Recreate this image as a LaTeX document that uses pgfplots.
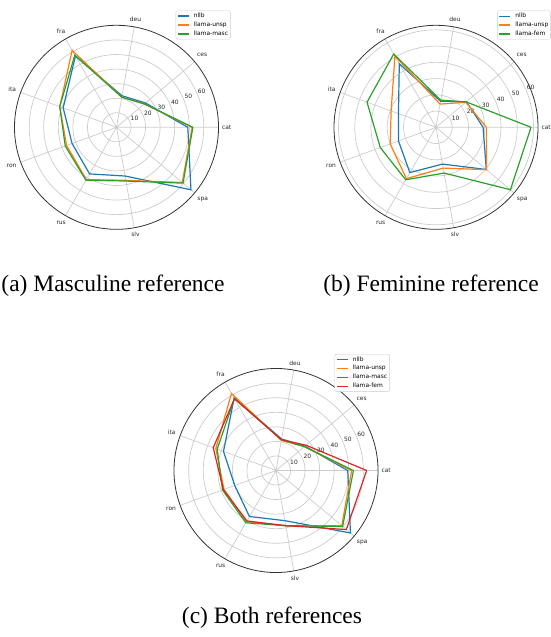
\documentclass[border=0pt]{standalone}
\usepackage{pgfplots}
\pgfplotsset{compat=1.18}
\usepgfplotslibrary{polar}
\usepackage{fontspec}
\setmainfont{Liberation Serif}
\newfontfamily\dejavu{DejaVu Sans}
\definecolor{c1}{HTML}{1F77B4}
\definecolor{c2}{HTML}{FF7F0E}
\definecolor{c3}{HTML}{2CA02C}
\definecolor{c4}{HTML}{D62728}
\definecolor{gridc}{HTML}{CCCCCC}
\newcommand{\tf}{\dejavu\fontsize{5.95}{7}\selectfont}
\pgfplotsset{
  radar/.style={
    scale only axis, width=204pt, height=204pt,
    xmin=22.5, xmax=382.5, ymin=0,
    xtick={40,80,...,360},
    xticklabels={ces,deu,fra,ita,ron,rus,slv,spa,cat},
    ytick={10,20,...,60},
    grid=major,
    major grid style={gridc, line width=0.7pt},
    major tick length=0pt,
    separate axis lines,
    x axis line style={black!80, line width=0.8pt},
    y axis line style={draw=none},
    ticklabel style={font=\tf, text=black!85},
    /pgf/number format/assume math mode=true,
    yticklabel style={anchor=south west, inner sep=0.6pt},
    clip=false,
    every axis plot/.append style={line width=1.2pt, mark=none},
    legend cell align=left,
    legend image code/.code={\draw[##1] (0pt,0pt) -- (11pt,0pt);},
    legend style={anchor=north west, font=\tf, draw=gridc, rounded corners=1.5pt,
      inner xsep=1.5pt, inner ysep=1.5pt, row sep=1.3pt, column sep=3.5pt,
      nodes={inner sep=0.8pt}},
  }
}
\begin{document}
\begin{tikzpicture}
\useasboundingbox (0,0) rectangle (551pt,-637pt);
% (a)
\begin{polaraxis}[radar, at={(116.5pt,-127.3pt)}, anchor=center, ymax=70.1,
  legend style={at={(0.755,1.004)}}]
\addplot[c1] coordinates {(360,49) (40,26) (80,22) (120,56.5) (160,39) (200,32.5) (240,37) (280,34) (320,66.8) (360,49)};
\addlegendentry{nllb}
\addplot[c2] coordinates {(360,52) (40,25) (80,21) (120,61) (160,41.5) (200,36.5) (240,41.5) (280,37) (320,59) (360,52)};
\addlegendentry{llama-unsp}
\addplot[c3] coordinates {(360,52.5) (40,25) (80,21) (120,57.3) (160,41.5) (200,37.5) (240,42) (280,37.5) (320,59.7) (360,52.5)};
\addlegendentry{llama-masc}
\end{polaraxis}
% (b)
\begin{polaraxis}[radar, at={(436pt,-127.3pt)}, anchor=center, ymax=62.8,
  legend style={at={(0.764,1.004)}}]
\addplot[c1] coordinates {(360,29) (40,24.5) (80,16.3) (120,45.2) (160,24.6) (200,24.6) (240,32.2) (280,23) (320,40.4) (360,29)};
\addlegendentry{nllb}
\addplot[c2] coordinates {(360,31) (40,24) (80,14.5) (120,50.6) (160,29.4) (200,30) (240,36.5) (280,25.5) (320,40.6) (360,31)};
\addlegendentry{llama-unsp}
\addplot[c3] coordinates {(360,58.5) (40,24.3) (80,17) (120,52.1) (160,45.2) (200,36.5) (240,37.3) (280,28.6) (320,59.8) (360,58.5)};
\addlegendentry{llama-fem}
\end{polaraxis}
% (c)
\begin{polaraxis}[radar, at={(276pt,-470.5pt)}, anchor=center, ymax=70.1,
  legend style={at={(0.753,1.003)}}]
\addplot[c1] coordinates {(360,49.3) (40,26) (80,22) (120,57.5) (160,38.4) (200,30.2) (240,36.5) (280,35) (320,66.8) (360,49.3)};
\addlegendentry{nllb}
\addplot[c2] coordinates {(360,52) (40,25.5) (80,21) (120,61.2) (160,44) (200,38) (240,40.6) (280,38.5) (320,59) (360,52)};
\addlegendentry{llama-unsp}
\addplot[c3] coordinates {(360,53.2) (40,25.5) (80,21.5) (120,57.1) (160,43) (200,39.1) (240,41.5) (280,38.5) (320,59.8) (360,53.2)};
\addlegendentry{llama-masc}
\addplot[c4] coordinates {(360,62.3) (40,27) (80,21.5) (120,57) (160,45.9) (200,38.5) (240,40) (280,38.5) (320,63.1) (360,62.3)};
\addlegendentry{llama-fem}
\end{polaraxis}
\node[anchor=base] at (113pt,-291.5pt) {\fontsize{23.5}{28}\selectfont (a) Masculine reference};
\node[anchor=base] at (431pt,-291.5pt) {\fontsize{23.5}{28}\selectfont (b) Feminine reference};
\node[anchor=base] at (272pt,-623pt) {\fontsize{23.5}{28}\selectfont (c) Both references};
\end{tikzpicture}
\end{document}
